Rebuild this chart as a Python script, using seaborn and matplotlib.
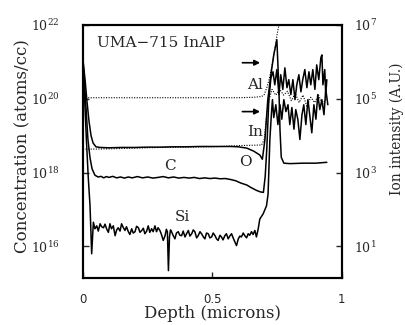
import numpy as np
import pandas as pd
import matplotlib
matplotlib.use("Agg")
import matplotlib.pyplot as plt
import seaborn as sns

# ---------------- data ----------------
# depth in microns, concentration in atoms/cc (left axis)
o_depth = [0.000, 0.008, 0.015, 0.023, 0.031, 0.039, 0.050, 0.066, 0.10, 0.15, 0.20, 0.25,
           0.30, 0.35, 0.40, 0.45, 0.50, 0.57, 0.60, 0.633, 0.66, 0.683, 0.693, 0.703,
           0.714, 0.726, 0.737, 0.749, 0.757, 0.761, 0.766, 0.776, 0.80, 0.85, 0.90, 0.942]
o_conc = [1.1e21, 3.2e20, 8.9e19, 2.5e19, 1.0e19, 6.3e18, 5.0e18, 4.8e18, 4.7e18, 4.8e18,
          4.8e18, 4.9e18, 4.9e18, 5.0e18, 5.0e18, 5.1e18, 5.1e18, 5.1e18, 5.0e18, 4.6e18,
          3.8e18, 3.0e18, 2.3e18, 7.9e18, 9.5e19, 4.5e20, 1.55e21, 4.0e21, 1.8e20, 1.5e19,
          2.6e18, 1.8e18, 1.75e18, 1.8e18, 1.8e18, 1.9e18]

c_depth = [0.000, 0.005, 0.012, 0.019, 0.027, 0.035, 0.046, 0.058, 0.07, 0.08, 0.09, 0.10,
           0.115, 0.13, 0.145, 0.16, 0.175, 0.19, 0.21, 0.23, 0.25, 0.27, 0.29, 0.31, 0.33,
           0.35, 0.37, 0.39, 0.41, 0.43, 0.45, 0.47, 0.49, 0.51, 0.53, 0.55, 0.57, 0.59,
           0.61, 0.633, 0.65, 0.67, 0.685, 0.697, 0.704, 0.710, 0.718, 0.726, 0.734, 0.741,
           0.749, 0.757, 0.764, 0.772, 0.780, 0.788, 0.795, 0.803, 0.811, 0.819, 0.826,
           0.834, 0.842, 0.849, 0.857, 0.865, 0.873, 0.880, 0.888, 0.896, 0.903, 0.911,
           0.919, 0.923, 0.927, 0.934, 0.938, 0.942]
c_conc = [1.0e21, 3.2e20, 5.0e19, 7.9e18, 2.5e18, 1.26e18, 8.5e17, 7.6e17, 7.9e17, 7.2e17,
          7.8e17, 7.4e17, 7.9e17, 7.2e17, 7.6e17, 7.1e17, 7.6e17, 7.2e17, 7.8e17, 7.2e17,
          7.6e17, 7.1e17, 7.4e17, 7.8e17, 7.2e17, 7.6e17, 7.1e17, 7.4e17, 7.1e17, 7.4e17,
          6.9e17, 7.2e17, 6.9e17, 7.1e17, 6.8e17, 6.9e17, 6.5e17, 6.0e17, 5.2e17, 4.6e17,
          3.9e17, 3.3e17, 3.0e17, 2.9e17, 8.0e17, 4.3e18, 9.5e19, 3.7e20, 5.4e20, 2.4e20,
          6.2e20, 1.3e20, 4.5e20, 1.8e20, 6.9e20, 2.0e20, 3.3e20, 1.3e20, 3.3e20, 9.5e19,
          2.4e20, 4.5e20, 1.55e20, 3.3e20, 6.2e20, 2.0e20, 5.4e20, 2.4e20, 6.2e20, 1.8e20,
          8.3e20, 3.3e20, 1.3e21, 1.55e21, 2.4e20, 6.2e20, 1.3e20, 3.3e20]

si_depth = [0.000, 0.006, 0.013, 0.020, 0.027, 0.0334, 0.040, 0.046, 0.053, 0.059, 0.066,
            0.072, 0.079, 0.085, 0.091, 0.098, 0.104, 0.110, 0.117, 0.124, 0.130, 0.136,
            0.143, 0.149, 0.155, 0.162, 0.168, 0.175, 0.181, 0.188, 0.194, 0.201, 0.207,
            0.214, 0.220, 0.227, 0.233, 0.239, 0.246, 0.252, 0.258, 0.265, 0.271, 0.278,
            0.284, 0.290, 0.297, 0.303, 0.310, 0.317, 0.322, 0.326, 0.330, 0.334, 0.338,
            0.342, 0.348, 0.355, 0.361, 0.368, 0.374, 0.381, 0.387, 0.394, 0.400, 0.407,
            0.413, 0.420, 0.426, 0.432, 0.439, 0.445, 0.452, 0.458, 0.465, 0.471, 0.477,
            0.484, 0.490, 0.497, 0.503, 0.510, 0.516, 0.522, 0.529, 0.535, 0.541, 0.548,
            0.554, 0.561, 0.567, 0.574, 0.580, 0.587, 0.593, 0.600, 0.606, 0.612, 0.619,
            0.625, 0.632, 0.638, 0.644, 0.651, 0.657, 0.664, 0.670, 0.677, 0.683, 0.696,
            0.709, 0.715, 0.719, 0.722, 0.728, 0.732, 0.737, 0.745, 0.753, 0.761, 0.768,
            0.776, 0.784, 0.792, 0.799, 0.807, 0.815, 0.822, 0.830, 0.838, 0.846, 0.853,
            0.861, 0.869, 0.876, 0.884, 0.892, 0.900, 0.907, 0.915, 0.923, 0.931, 0.938,
            0.946]
si_conc = [1.0e21, 1.0e20, 7.9e18, 7.9e17, 1.26e17, 6.3e15, 4.5e16, 3.0e16, 3.6e16, 2.6e16,
           4.1e16, 3.4e16, 3.2e16, 4.0e16, 3.0e16, 2.4e16, 4.1e16, 3.0e16, 3.6e16, 1.95e16,
           2.8e16, 3.2e16, 2.6e16, 4.1e16, 3.3e16, 2.7e16, 3.4e16, 2.5e16, 2.1e16, 3.0e16,
           2.3e16, 2.5e16, 3.5e16, 3.2e16, 2.4e16, 2.7e16, 3.1e16, 2.2e16, 2.6e16, 3.6e16,
           2.4e16, 3.0e16, 2.5e16, 3.6e16, 2.5e16, 3.2e16, 2.7e16, 2.1e16, 1.45e16, 1.95e16,
           2.9e16, 2.5e16, 2.2e15, 1.8e16, 2.8e16, 2.5e16, 2.0e16, 1.6e16, 2.3e16, 2.5e16,
           2.0e16, 1.95e16, 2.6e16, 1.8e16, 2.2e16, 2.7e16, 1.9e16, 2.2e16, 2.8e16, 2.5e16,
           1.7e16, 1.95e16, 2.5e16, 2.2e16, 1.8e16, 1.6e16, 2.3e16, 2.2e16, 1.7e16, 1.8e16,
           2.3e16, 1.95e16, 1.6e16, 1.45e16, 2.0e16, 1.8e16, 1.5e16, 1.95e16, 2.2e16, 1.6e16,
           1.9e16, 2.2e16, 1.7e16, 1.3e16, 1.05e16, 1.6e16, 1.9e16, 1.8e16, 2.3e16, 1.95e16,
           1.7e16, 2.2e16, 2.0e16, 2.5e16, 2.1e16, 2.7e16, 1.8e16, 3.0e16, 5.5e16, 7.6e16,
           1.26e17, 2.6e17, 2.0e18, 7.9e18, 4.0e19, 9.5e19, 3.1e19, 6.9e19, 2.0e19, 6.9e19,
           2.8e19, 9.5e19, 4.5e19, 6.9e19, 2.0e19, 5.8e19, 1.5e19, 5.1e19, 2.8e19, 7.9e18,
           3.7e19, 6.9e19, 2.0e19, 9.5e19, 3.7e19, 1.2e19, 6.9e19, 2.8e19, 1.3e20, 5.1e19,
           9.5e19, 3.7e19, 1.8e20, 6.9e19]

# ion intensities (A.U., right axis)
al_depth = [0.00, 0.10, 0.20, 0.30, 0.40, 0.50, 0.60, 0.66, 0.69, 0.70, 0.71, 0.72, 0.73,
            0.74, 0.75, 0.76, 0.80, 0.85, 0.90, 0.94]
al_int = [1.07e5, 1.07e5, 1.07e5, 1.07e5, 1.07e5, 1.07e5, 1.07e5, 1.1e5, 1.15e5, 1.3e5,
          2.0e5, 3.5e5, 8.0e5, 2.0e6, 5.6e6, 1.3e7, 2.5e7, 2.5e7, 2.5e7, 2.5e7]

in_depth = [0.00, 0.10, 0.20, 0.30, 0.40, 0.50, 0.60, 0.65, 0.69, 0.70, 0.706, 0.712, 0.72,
            0.73, 0.745, 0.76, 0.775, 0.79, 0.805, 0.82, 0.835, 0.85, 0.865, 0.88, 0.895,
            0.91, 0.925, 0.94]
in_int = [4.3e3, 4.4e3, 4.6e3, 4.8e3, 4.9e3, 5.0e3, 5.4e3, 5.5e3, 5.6e3, 7.9e3, 2.0e4,
          5.0e4, 1.0e5, 1.8e5, 1.26e5, 1.8e5, 1.26e5, 1.6e5, 8.9e4, 1.4e5, 7.9e4, 1.26e5,
          6.3e4, 1.1e5, 7.9e4, 1.26e5, 7.1e4, 1.0e5]

left_ticks = [1e16, 1e18, 1e20, 1e22]
left_ticklabels = ["$10^{16}$", "$10^{18}$", "$10^{20}$", "$10^{22}$"]
right_ticks = [1e1, 1e3, 1e5, 1e7]
right_ticklabels = ["$10^{1}$", "$10^{3}$", "$10^{5}$", "$10^{7}$"]
x_ticks = [0, 0.5, 1]
x_ticklabels = ["0", "0.5", "1"]

# ---------------- figure ----------------
sns.set_theme(style="ticks")
plt.rcParams["font.family"] = ["DejaVu Serif"]
plt.rcParams["mathtext.fontset"] = "dejavuserif"

fig = plt.figure(figsize=(4.05, 3.25), dpi=100)
ax = fig.add_axes([0.205, 0.145, 0.639, 0.778])
ax.set_facecolor("white")
fig.patch.set_facecolor("white")

def draw(axis, x, y, **kw):
    df = pd.DataFrame({"x": x, "y": y})
    sns.lineplot(data=df, x="x", y="y", ax=axis, estimator=None, sort=False,
                 legend=False, **kw)

ax.set_yscale("log")
draw(ax, o_depth, o_conc, color="black", linewidth=1.1)
draw(ax, c_depth, c_conc, color="black", linewidth=1.1)
draw(ax, si_depth, si_conc, color="black", linewidth=1.1)

ax.set_xlim(0, 1)
ax.set_ylim(1.4e15, 1e22)

ax2 = ax.twinx()
ax2.set_yscale("log")
draw(ax2, al_depth, al_int, color="black", linewidth=0.8, linestyle=(0, (1, 1.3)))
draw(ax2, in_depth, in_int, color="black", linewidth=0.8, linestyle=(0, (1, 1.3)))
ax2.set_ylim(1.4, 1e7)
ax2.set_xlim(0, 1)

for a in (ax, ax2):
    for s in a.spines.values():
        s.set_linewidth(1.5)
        s.set_color("black")
        s.set_visible(True)
    a.minorticks_off()

ax.set_yticks(left_ticks)
ax.set_yticklabels(left_ticklabels, fontsize=9)
ax.set_xticks(x_ticks)
ax.set_xticklabels(x_ticklabels, fontsize=8.5, family="DejaVu Sans")
ax.tick_params(axis="y", direction="in", length=4, width=1, pad=17, left=True, right=False)
ax.tick_params(axis="x", direction="in", length=4, width=1, pad=11, bottom=True, top=False)
ax.yaxis.set_minor_locator(matplotlib.ticker.NullLocator())

ax2.set_yticks(right_ticks)
ax2.set_yticklabels(right_ticklabels, fontsize=9)
ax2.yaxis.set_minor_locator(matplotlib.ticker.NullLocator())
ax2.tick_params(axis="y", direction="in", length=4, width=1, pad=9)

ax.set_xlabel("Depth (microns)", fontsize=12, labelpad=-1)
ax.set_ylabel("Concentration (atoms/cc)", fontsize=12)
ax.yaxis.set_label_coords(-0.20, 0.52)
ax2.set_ylabel("Ion intensity (A.U.)", fontsize=10, rotation=90)
ax2.yaxis.set_label_coords(1.185, 0.59)

ax.text(0.054, 0.929, "UMA\u2212715 InAlP", transform=ax.transAxes, fontsize=11,
        ha="left", va="center")
ax.text(0.633, 2.4e20, "Al", fontsize=11, ha="left", va="center")
ax.text(0.633, 1.23e19, "In", fontsize=11, ha="left", va="center")
ax.text(0.336, 1.5e18, "C", fontsize=11, ha="center", va="center")
ax.text(0.629, 1.9e18, "O", fontsize=11, ha="center", va="center")
ax.text(0.382, 6.3e16, "Si", fontsize=11, ha="center", va="center")
for yv in (9.5e20, 4.5e19):
    ax.annotate("", xy=(0.695, yv), xytext=(0.605, yv),
                arrowprops=dict(arrowstyle="-|>", color="black", lw=1.2,
                                mutation_scale=8))

fig.savefig("out.png", dpi=100)
